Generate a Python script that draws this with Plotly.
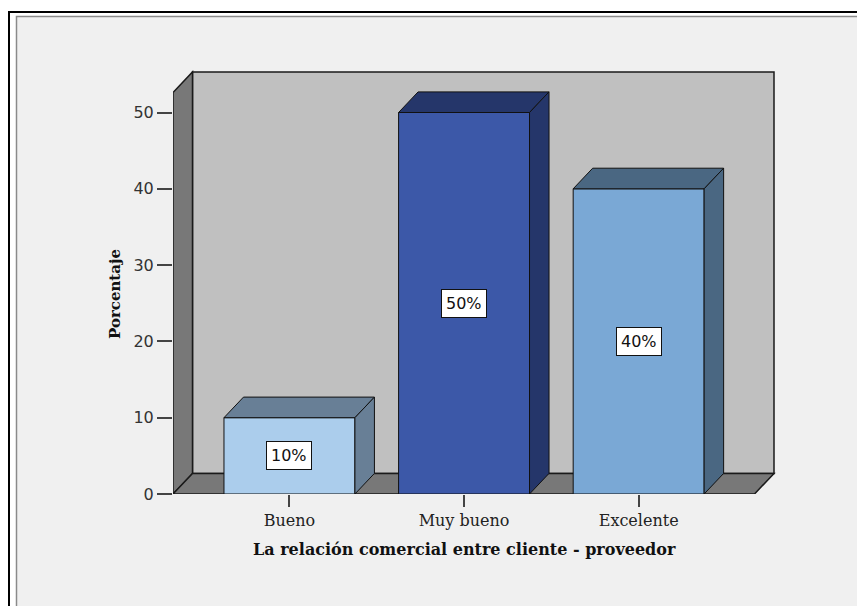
import plotly.graph_objects as go

# Data
categories = ["Bueno", "Muy bueno", "Excelente"]
porcentajes = [10, 50, 40]
etiquetas = ["10%", "50%", "40%"]
y_ticks = [0, 10, 20, 30, 40, 50]

front_colors = ["#ABCDEC", "#3C58A8", "#7AA8D5"]
shade_colors = ["#687F96", "#25366A", "#4A6782"]

# Figure geometry (pixels)
W, H = 857, 606
L, R, T, B = 173, 80, 69, 112
plot_w = W - L - R
plot_h = H - T - B

px_per_x = 174.6          # pixels per category step
px_per_y = 7.63           # pixels per percentage point
x_range = [-0.667, -0.667 + plot_w / px_per_x]
y_range = [0, plot_h / px_per_y]

# 3D depth offset expressed in data units
dx = 19.5 / px_per_x
dy = 20.6 / px_per_y
bar_w = 0.75

# Extents of the box walls
wall_right = x_range[0] + 601 / px_per_x
wall_top = (494 - 72) / px_per_y
xl = x_range[0]


def to_paper(px, py):
    return (px - L) / plot_w, (H - B - py) / plot_h


fig = go.Figure()

# Front faces of the bars
xs = list(range(len(categories)))
fig.add_trace(go.Bar(
    x=xs, y=porcentajes, width=bar_w,
    marker=dict(color=front_colors, line=dict(color="#111111", width=1)),
    hoverinfo="skip", showlegend=False,
))

# Top and side faces of the bars
for c, v, col in zip(xs, porcentajes, shade_colors):
    x0, x1 = c - bar_w / 2, c + bar_w / 2
    top_x = [x0, x1, x1 + dx, x0 + dx, x0]
    top_y = [v, v, v + dy, v + dy, v]
    side_x = [x1, x1, x1 + dx, x1 + dx, x1]
    side_y = [0, v, v + dy, dy, 0]
    for px_, py_ in ((top_x, top_y), (side_x, side_y)):
        fig.add_trace(go.Scatter(
            x=px_, y=py_, mode="lines", fill="toself", fillcolor=col,
            line=dict(color="#111111", width=1),
            hoverinfo="skip", showlegend=False,
        ))

shapes = []
# Outer frame
ox0, oy0 = to_paper(9, 12)
ox1, oy1 = to_paper(1000, 1000)
shapes.append(dict(type="rect", xref="paper", yref="paper", layer="below",
                   x0=ox0, y0=oy0, x1=ox1, y1=oy1,
                   line=dict(color="#000000", width=2), fillcolor="#FFFFFF"))
ix0, iy0 = to_paper(16.5, 16.5)
shapes.append(dict(type="rect", xref="paper", yref="paper", layer="below",
                   x0=ix0, y0=iy0, x1=ox1, y1=oy1,
                   line=dict(color="#8A8A8A", width=1.5), fillcolor="#F0F0F0"))

wall_line = dict(color="#1A1A1A", width=1.5)
# Back wall
shapes.append(dict(type="rect", xref="x", yref="y", layer="below",
                   x0=xl + dx, y0=dy, x1=wall_right, y1=wall_top,
                   line=wall_line, fillcolor="#C0C0C0"))
# Left wall
shapes.append(dict(type="path", xref="x", yref="y", layer="below",
                   path=f"M {xl},0 L {xl},{wall_top - dy} L {xl + dx},{wall_top} "
                        f"L {xl + dx},{dy} Z",
                   line=wall_line, fillcolor="#787878"))
# Floor
shapes.append(dict(type="path", xref="x", yref="y", layer="below",
                   path=f"M {xl},0 L {wall_right - dx},0 L {wall_right},{dy} "
                        f"L {xl + dx},{dy} Z",
                   line=wall_line, fillcolor="#787878"))

annotations = []
for c, v, t in zip(xs, porcentajes, etiquetas):
    annotations.append(dict(
        x=c, y=v / 2, xref="x", yref="y", text=t, showarrow=False,
        xanchor="center", yanchor="middle",
        font=dict(family="DejaVu Sans", size=16, color="#111111"),
        bgcolor="#FFFFFF", bordercolor="#111111", borderwidth=1, borderpad=4,
    ))

tx, ty = to_paper(464, 549)
annotations.append(dict(
    x=tx, y=ty, xref="paper", yref="paper", showarrow=False,
    xanchor="center", yanchor="middle",
    text="<b>La relación comercial entre cliente - proveedor</b>",
    font=dict(family="DejaVu Serif", size=16, color="#111111"),
))
yx, yy = to_paper(115, 294)
annotations.append(dict(
    x=yx, y=yy, xref="paper", yref="paper", showarrow=False, textangle=-90,
    xanchor="center", yanchor="middle",
    text="<b>Porcentaje</b>",
    font=dict(family="DejaVu Serif", size=15, color="#111111"),
))

fig.update_layout(
    width=W, height=H,
    margin=dict(l=L, r=R, t=T, b=B, pad=0),
    paper_bgcolor="#FFFFFF",
    plot_bgcolor="rgba(0,0,0,0)",
    shapes=shapes,
    annotations=annotations,
    showlegend=False,
    xaxis=dict(
        range=x_range, tickvals=xs, ticktext=categories,
        showgrid=False, zeroline=False, showline=False,
        ticks="outside", ticklen=12, tickwidth=1.5, tickcolor="#444444",
        tickfont=dict(family="DejaVu Serif", size=16, color="#222222"),
        fixedrange=True,
    ),
    yaxis=dict(
        range=y_range, tickvals=y_ticks,
        showgrid=False, zeroline=False, showline=False,
        ticks="outside", ticklen=15, tickwidth=1.5, tickcolor="#444444",
        tickfont=dict(family="DejaVu Sans", size=16, color="#333333"),
        fixedrange=True,
    ),
)

fig.write_html("out.html")
